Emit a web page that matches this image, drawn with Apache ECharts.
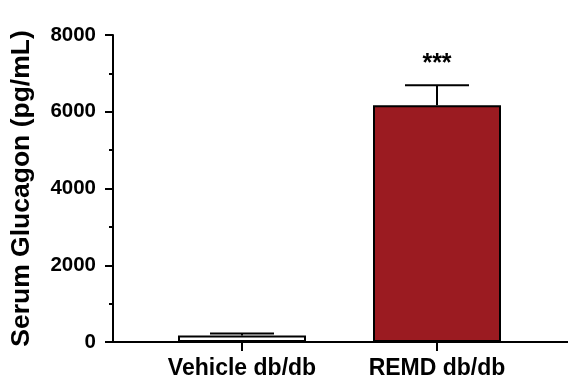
<!DOCTYPE html>
<html>
<head>
<meta charset="utf-8">
<script src="https://cdn.jsdelivr.net/npm/echarts@6/dist/echarts.min.js"></script>
<style>
html,body{margin:0;padding:0;background:#fff;}
#chart{width:568px;height:385px;}
</style>
</head>
<body>
<div id="chart"></div>
<script>
const categories = ['Vehicle db/db', 'REMD db/db'];
const means = [170, 6170];
const errors = [50, 520];
const signif = ['', '***'];
const barColors = ['#ffffff', '#9b1b21'];
const yMin = 0, yMax = 8000, yInterval = 2000;
const yTitle = 'Serum Glucagon (pg/mL)';

const FONT = 'Liberation Sans';
const chart = echarts.init(document.getElementById('chart'), null, {renderer: 'canvas'});

const option = {
  backgroundColor: '#ffffff',
  animation: false,
  grid: [
    {left: 113, right: 0, top: 35, bottom: 43},
    {left: 144.5, right: 33.5, top: 35, bottom: 43}
  ],
  xAxis: [
    {
      gridIndex: 0, type: 'value', min: 0, max: 1,
      axisLine: {show: true, onZero: false, lineStyle: {color: '#000', width: 2}},
      axisTick: {show: false}, axisLabel: {show: false}, splitLine: {show: false}
    },
    {
      gridIndex: 1, type: 'category', data: categories,
      axisLine: {show: false},
      axisTick: {show: true, alignWithLabel: true, length: 9, lineStyle: {color: '#000', width: 2}},
      axisLabel: {color: '#000', fontFamily: FONT, fontWeight: 'bold', fontSize: 23, margin: 15},
      splitLine: {show: false}
    }
  ],
  yAxis: [
    {
      gridIndex: 0, type: 'value', min: yMin, max: yMax, interval: yInterval,
      name: yTitle, nameLocation: 'middle', nameGap: 78,
      nameTextStyle: {color: '#000', fontFamily: FONT, fontWeight: 'bold', fontSize: 26.5},
      axisLine: {show: true, lineStyle: {color: '#000', width: 2}},
      axisTick: {show: true, length: 8, lineStyle: {color: '#000', width: 2}},
      minorTick: {show: true, splitNumber: 2, length: 4, lineStyle: {color: '#000', width: 2}},
      axisLabel: {color: '#000', fontFamily: FONT, fontWeight: 'bold', fontSize: 20.5, margin: 17,
        formatter: function (v) { return String(v); }},
      splitLine: {show: false}
    },
    {
      gridIndex: 1, type: 'value', min: yMin, max: yMax, interval: yInterval, show: false
    }
  ],
  series: [
    {
      type: 'bar', xAxisIndex: 1, yAxisIndex: 1, barWidth: 128,
      data: means.map((v, i) => ({value: v, itemStyle: {color: barColors[i]}})),
      itemStyle: {borderColor: '#000', borderWidth: 2}
    },
    {
      type: 'custom', xAxisIndex: 1, yAxisIndex: 1,
      data: means.map((v, i) => [i, v, v + errors[i], signif[i]]),
      renderItem: function (params, api) {
        const base = api.coord([api.value(0), api.value(1)]);
        const top = api.coord([api.value(0), api.value(2)]);
        const half = 32;
        const children = [
          {type: 'line', shape: {x1: base[0], y1: base[1], x2: top[0], y2: top[1]}, style: {stroke: '#000', lineWidth: 2}},
          {type: 'line', shape: {x1: top[0] - half, y1: top[1], x2: top[0] + half, y2: top[1]}, style: {stroke: '#000', lineWidth: 2}}
        ];
        const s = signif[params.dataIndex];
        if (s) {
          children.push({type: 'text', x: top[0], y: top[1] - 21,
            style: {text: s, fill: '#000', font: 'bold 25px "Liberation Sans"', align: 'center', verticalAlign: 'middle'}});
        }
        return {type: 'group', children: children};
      },
      z: 3
    }
  ]
};
chart.setOption(option);
</script>
</body>
</html>
